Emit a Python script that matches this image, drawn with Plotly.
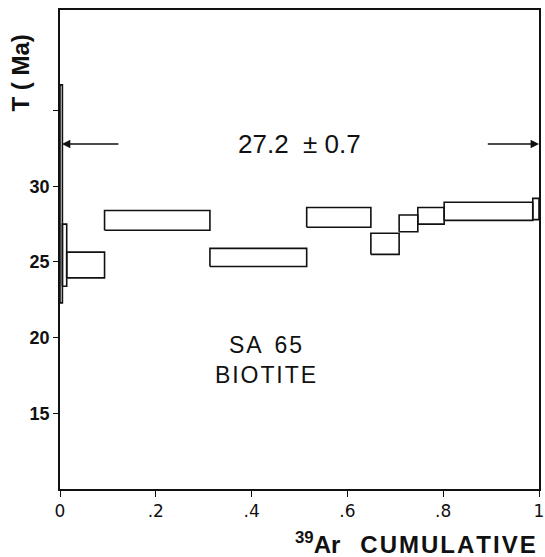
import plotly.graph_objects as go

# Step boundaries (cumulative 39Ar fraction)
step_bounds = [0.0, 0.005, 0.014, 0.093, 0.313, 0.515, 0.649, 0.708, 0.747, 0.802, 0.987, 1.0]
# Apparent ages (Ma): upper and lower limits of each step box
age_high = [36.7, 27.5, 25.65, 28.4, 25.9, 28.6, 26.9, 28.1, 28.6, 28.95, 29.2]
age_low = [22.3, 23.4, 23.95, 27.1, 24.7, 27.3, 25.5, 27.0, 27.5, 27.75, 27.8]

plateau_label = "27.2\u00a0\u00a0±\u00a00.7"
sample_label = "S\u200aA\u00a0\u00a06\u200a5<br>B\u200aI\u200aO\u200aT\u200aI\u200aT\u200aE"
x_title = "<b><sup>39</sup>Ar\u00a0\u00a0\u00a0" + "\u200a".join("CUMULATIVE") + "</b>"
arrow_level = 32.8
arrow_left = [0.125, 0.004]
arrow_right = [0.89, 1.0]

x_ticks = [0, 0.2, 0.4, 0.6, 0.8, 1.0]
x_tick_text = ["0", ".2", ".4", ".6", ".8", "1"]
y_ticks = [15, 20, 25, 30, 35]
y_tick_text = ["<b>15</b>", "<b>20</b>", "<b>25</b>", "<b>30</b>", ""]

fig = go.Figure()

for i in range(len(age_high)):
    x0, x1 = step_bounds[i], step_bounds[i + 1]
    lo, hi = age_low[i], age_high[i]
    fig.add_trace(go.Scatter(
        x=[x0, x1, x1, x0, x0], y=[lo, lo, hi, hi, lo],
        mode="lines", line=dict(color="#111", width=1.6),
        hoverinfo="skip", showlegend=False, cliponaxis=False))

# plateau arrows
for tail, head in (arrow_left, arrow_right):
    fig.add_annotation(x=head, y=arrow_level, ax=tail, ay=arrow_level,
                       xref="x", yref="y", axref="x", ayref="y",
                       showarrow=True, arrowhead=2, arrowsize=1.2,
                       arrowwidth=1.4, arrowcolor="#111", text="")

fig.add_annotation(x=0.5, y=arrow_level, xref="x", yref="y", text=plateau_label,
                   showarrow=False, font=dict(family="Liberation Sans", size=26, color="#111"),
                   xanchor="center", yanchor="middle")

fig.add_annotation(x=0.428, y=18.5, xref="x", yref="y", text=sample_label,
                   showarrow=False, align="center",
                   font=dict(family="Liberation Sans", size=23, color="#111"),
                   xanchor="center", yanchor="middle")

# axis titles
fig.add_annotation(x=-0.083, y=0.868, xref="paper", yref="paper",
                   text="<b>T\u00a0(\u00a0Ma)</b>",
                   textangle=-90, showarrow=False,
                   font=dict(family="Liberation Sans", size=24, color="#111"),
                   xanchor="center", yanchor="middle")
fig.add_annotation(x=0.998, y=-0.113, xref="paper", yref="paper",
                   text=x_title, showarrow=False,
                   font=dict(family="Liberation Sans", size=24, color="#111"),
                   xanchor="right", yanchor="middle")

axis_common = dict(showgrid=False, zeroline=False, showline=True, mirror=True,
                   linecolor="#111", linewidth=1.6, ticks="outside",
                   tickcolor="#111", tickwidth=1.3, automargin=False)

fig.update_xaxes(range=[0, 1], tickvals=x_ticks, ticktext=x_tick_text, ticklen=6,
                 tickfont=dict(family="DejaVu Sans", size=17, color="#111"),
                 **axis_common)
fig.update_yaxes(range=[10, 41.65], tickvals=y_ticks, ticktext=y_tick_text, ticklen=5,
                 tickfont=dict(family="Liberation Sans", size=18, color="#111"),
                 **axis_common)

fig.update_layout(width=545, height=557, margin=dict(l=60, r=6, t=10, b=68),
                  paper_bgcolor="white", plot_bgcolor="white", showlegend=False)

fig.write_html("out.html", config={"displayModeBar": False},
               post_script="document.body.style.margin='0px';")
